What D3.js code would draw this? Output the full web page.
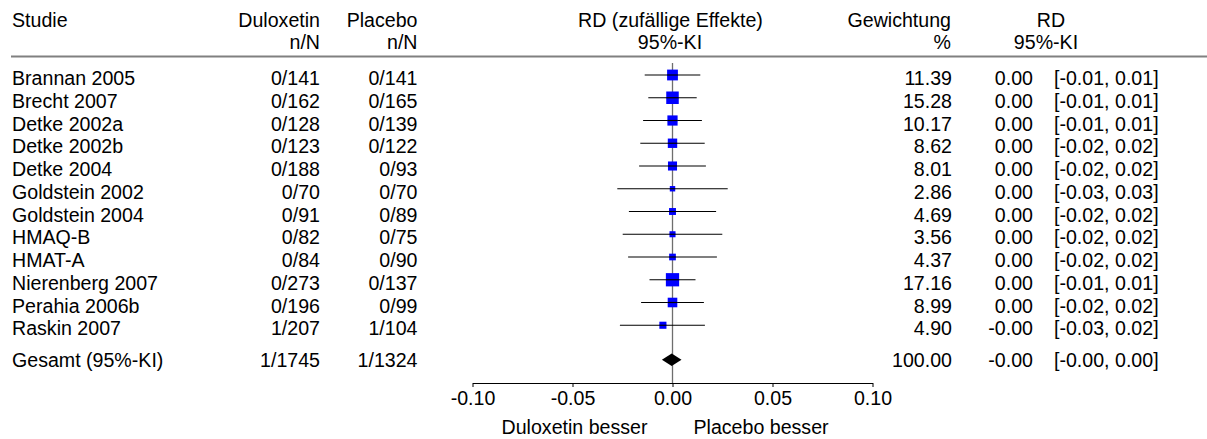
<!DOCTYPE html>
<html>
<head>
<meta charset="utf-8">
<script src="https://cdn.jsdelivr.net/npm/d3@7"></script>
<style>
  html, body { margin: 0; padding: 0; background: #fff; }
  svg { display: block; }
  text { font-family: "Liberation Sans", Arial, sans-serif; font-size: 19.6px; fill: #000; }
</style>
</head>
<body>
<svg id="chart" width="1207" height="439"></svg>
<script>
// ---- data ----
const studies = ["Brannan 2005","Brecht 2007","Detke 2002a","Detke 2002b","Detke 2004","Goldstein 2002","Goldstein 2004","HMAQ-B","HMAT-A","Nierenberg 2007","Perahia 2006b","Raskin 2007"];
const duloxetin = ["0/141","0/162","0/128","0/123","0/188","0/70","0/91","0/82","0/84","0/273","0/196","1/207"];
const placebo = ["0/141","0/165","0/139","0/122","0/93","0/70","0/89","0/75","0/90","0/137","0/99","1/104"];
const rd = [0, 0, 0, 0, 0, 0, 0, 0, 0, 0, 0, -0.0048];
const ciLower = [-0.0139, -0.0121, -0.0147, -0.0161, -0.0167, -0.0276, -0.0218, -0.0249, -0.0222, -0.0115, -0.0157, -0.0263];
const ciUpper = [0.0139, 0.0121, 0.0147, 0.0161, 0.0167, 0.0276, 0.0218, 0.0249, 0.0222, 0.0115, 0.0157, 0.0162];
const weights = [11.39, 15.28, 10.17, 8.62, 8.01, 2.86, 4.69, 3.56, 4.37, 17.16, 8.99, 4.90];
const weightLabels = ["11.39","15.28","10.17","8.62","8.01","2.86","4.69","3.56","4.37","17.16","8.99","4.90"];
const rdLabels = ["0.00","0.00","0.00","0.00","0.00","0.00","0.00","0.00","0.00","0.00","0.00","-0.00"];
const ciLabels = ["[-0.01, 0.01]","[-0.01, 0.01]","[-0.01, 0.01]","[-0.02, 0.02]","[-0.02, 0.02]","[-0.03, 0.03]","[-0.02, 0.02]","[-0.02, 0.02]","[-0.02, 0.02]","[-0.01, 0.01]","[-0.02, 0.02]","[-0.03, 0.02]"];
const overallLabel = "Gesamt (95%-KI)";
const overallDuloxetin = "1/1745";
const overallPlacebo = "1/1324";
const overallRD = -0.0004;
const overallLower = -0.0053;
const overallUpper = 0.0045;
const overallWeightLabel = "100.00";
const overallRDLabel = "-0.00";
const overallCILabel = "[-0.00, 0.00]";
const tickValues = [-0.10, -0.05, 0.00, 0.05, 0.10];
const tickLabels = ["-0.10","-0.05","0.00","0.05","0.10"];
const labelLeft = "Duloxetin besser";
const labelRight = "Placebo besser";

// ---- layout ----
const svg = d3.select("#chart");
const x = d3.scaleLinear().domain([-0.1, 0.1]).range([472.5, 872.5]);
const rowCenter = d3.scaleLinear().domain([0, 1]).range([75, 97.75]);
const overallY = 359.7;
const size = d3.scaleSqrt().domain([0, 100]).range([0, 32]);
const axisY = 383;

// header
const hdr = svg.append("g");
hdr.append("text").attr("x", 12).attr("y", 26.7).text("Studie");
hdr.append("text").attr("x", 320).attr("y", 26.7).attr("text-anchor", "end").text("Duloxetin");
hdr.append("text").attr("x", 320).attr("y", 49.3).attr("text-anchor", "end").text("n/N");
hdr.append("text").attr("x", 417.5).attr("y", 26.7).attr("text-anchor", "end").text("Placebo");
hdr.append("text").attr("x", 417.5).attr("y", 49.3).attr("text-anchor", "end").text("n/N");
hdr.append("text").attr("x", x(0) - 2).attr("y", 26.7).attr("text-anchor", "middle").text("RD (zufällige Effekte)");
hdr.append("text").attr("x", x(0) - 2.5).attr("y", 49.3).attr("text-anchor", "middle").text("95%-KI");
hdr.append("text").attr("x", 951).attr("y", 26.7).attr("text-anchor", "end").text("Gewichtung");
hdr.append("text").attr("x", 951).attr("y", 49.3).attr("text-anchor", "end").text("%");
hdr.append("text").attr("x", 1051).attr("y", 26.7).attr("text-anchor", "middle").text("RD");
hdr.append("text").attr("x", 1046).attr("y", 49.3).attr("text-anchor", "middle").text("95%-KI");
svg.append("line").attr("x1", 11).attr("x2", 1207).attr("y1", 56.5).attr("y2", 56.5)
  .attr("stroke", "#808080").attr("stroke-width", 2);

// reference line at 0
svg.append("line").attr("x1", x(0)).attr("x2", x(0)).attr("y1", 63).attr("y2", axisY)
  .attr("stroke", "#6e6e6e").attr("stroke-width", 1.3);

// study rows
const rows = svg.append("g").selectAll("g").data(studies).join("g");
rows.append("text").attr("x", 12).attr("y", (d, i) => rowCenter(i) + 10).text(d => d);
rows.append("text").attr("x", 320).attr("y", (d, i) => rowCenter(i) + 10).attr("text-anchor", "end").text((d, i) => duloxetin[i]);
rows.append("text").attr("x", 417.5).attr("y", (d, i) => rowCenter(i) + 10).attr("text-anchor", "end").text((d, i) => placebo[i]);
rows.append("text").attr("x", 952).attr("y", (d, i) => rowCenter(i) + 10).attr("text-anchor", "end").text((d, i) => weightLabels[i]);
rows.append("text").attr("x", 1033).attr("y", (d, i) => rowCenter(i) + 10).attr("text-anchor", "end").text((d, i) => rdLabels[i]);
rows.append("text").attr("x", 1054).attr("y", (d, i) => rowCenter(i) + 10).text((d, i) => ciLabels[i]);
rows.append("line")
  .attr("x1", (d, i) => x(ciLower[i])).attr("x2", (d, i) => x(ciUpper[i]))
  .attr("y1", (d, i) => rowCenter(i)).attr("y2", (d, i) => rowCenter(i))
  .attr("stroke", "#000").attr("stroke-width", 1.2);
rows.append("rect")
  .attr("x", (d, i) => x(rd[i]) - size(weights[i]) / 2)
  .attr("y", (d, i) => rowCenter(i) - size(weights[i]) / 2)
  .attr("width", (d, i) => size(weights[i]))
  .attr("height", (d, i) => size(weights[i]))
  .attr("fill", "#0000ff");
rows.append("line")
  .attr("x1", (d, i) => x(rd[i]) - size(weights[i]) / 2).attr("x2", (d, i) => x(rd[i]) + size(weights[i]) / 2)
  .attr("y1", (d, i) => rowCenter(i)).attr("y2", (d, i) => rowCenter(i))
  .attr("stroke", "#000").attr("stroke-width", 1.2);

// overall row
const ov = svg.append("g");
const oy = 366.7;
ov.append("text").attr("x", 12).attr("y", oy).text(overallLabel);
ov.append("text").attr("x", 320).attr("y", oy).attr("text-anchor", "end").text(overallDuloxetin);
ov.append("text").attr("x", 417.5).attr("y", oy).attr("text-anchor", "end").text(overallPlacebo);
ov.append("text").attr("x", 952).attr("y", oy).attr("text-anchor", "end").text(overallWeightLabel);
ov.append("text").attr("x", 1033).attr("y", oy).attr("text-anchor", "end").text(overallRDLabel);
ov.append("text").attr("x", 1054).attr("y", oy).text(overallCILabel);
const dh = 6.3;
ov.append("path")
  .attr("d", `M${x(overallLower)},${overallY} L${x(overallRD)},${overallY - dh} L${x(overallUpper)},${overallY} L${x(overallRD)},${overallY + dh} Z`)
  .attr("fill", "#000");

// axis
const axis = d3.axisBottom(x).tickValues(tickValues).tickFormat((d, i) => tickLabels[i]).tickSize(4).tickSizeOuter(0);
const ag = svg.append("g").attr("transform", `translate(0,${axisY})`).call(axis);
ag.select(".domain").attr("stroke", "#000").attr("stroke-width", 1);
ag.selectAll(".tick line").attr("stroke", "#000");
ag.selectAll(".tick text").attr("font-family", null).attr("font-size", null).attr("dy", null).attr("y", 22);
ag.attr("font-family", null).attr("font-size", null);

svg.append("text").attr("x", x(0) - 25).attr("y", 433.5).attr("text-anchor", "end").text(labelLeft);
svg.append("text").attr("x", x(0) + 21).attr("y", 433.5).text(labelRight);
</script>
</body>
</html>
